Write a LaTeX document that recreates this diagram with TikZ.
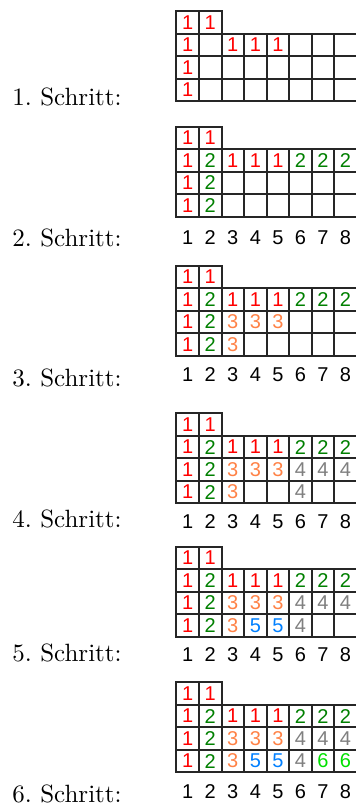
\documentclass[tikz,border=0pt]{standalone}
\usepackage{fontspec}
\newfontfamily\digitfont{Liberation Sans}
\definecolor{cone}{RGB}{255,0,0}
\definecolor{ctwo}{RGB}{0,128,0}
\definecolor{cthree}{RGB}{255,130,70}
\definecolor{cfour}{RGB}{128,128,128}
\definecolor{cfive}{RGB}{0,128,255}
\definecolor{csix}{RGB}{0,225,0}
\newcommand{\cellgrid}[1]{%
  \foreach \c in {0,1} {\draw[gridline] ({176.4+\c*22.55},#1) rectangle ++(22.55,22.5);}
  \foreach \r in {1,2,3} {\foreach \c in {0,...,7} {\draw[gridline] ({176.4+\c*22.55},{#1+\r*22.5}) rectangle ++(22.55,22.5);}}%
}
\newcommand{\fillcells}[3]{%
  \foreach \r/\c/\v/\k in {#3} {\node[celltxt,text=\k] (s#1-\r-\c) at ({176.4+(\c-0.5)*22.55},{#2+(\r+0.5)*22.5}) {\v};}%
}
\newcommand{\numrow}[2]{%
  \foreach \c in {1,...,8} {\node[celltxt] (n#1-\c) at ({176.4+(\c-0.5)*22.55},#2) {\c};}%
}
\frenchspacing
\begin{document}
\begin{tikzpicture}[x=0.4pt,y=-0.4pt,
  gridline/.style={line width=0.8pt, black!85},
  celltxt/.style={font=\digitfont\fontsize{8}{9.6}\selectfont, inner sep=0pt, anchor=center},
  steplabel/.style={anchor=base west, inner sep=0pt, font=\fontsize{10}{12}\selectfont}]
\useasboundingbox (0,0) rectangle (355,809);
\fill[white] (0,0) rectangle (355,809);
% grids
\cellgrid{11}
\cellgrid{126.5}
\cellgrid{265.7}
\cellgrid{413.3}
\cellgrid{546.7}
\cellgrid{682.3}
% step 1
\fillcells{1}{11}{0/1/1/cone,0/2/1/cone,1/1/1/cone,1/3/1/cone,1/4/1/cone,1/5/1/cone,2/1/1/cone,3/1/1/cone}
% step 2
\fillcells{2}{126.5}{0/1/1/cone,0/2/1/cone,1/1/1/cone,1/2/2/ctwo,1/3/1/cone,1/4/1/cone,1/5/1/cone,1/6/2/ctwo,1/7/2/ctwo,1/8/2/ctwo,2/1/1/cone,2/2/2/ctwo,3/1/1/cone,3/2/2/ctwo}
% step 3
\fillcells{3}{265.7}{0/1/1/cone,0/2/1/cone,1/1/1/cone,1/2/2/ctwo,1/3/1/cone,1/4/1/cone,1/5/1/cone,1/6/2/ctwo,1/7/2/ctwo,1/8/2/ctwo,2/1/1/cone,2/2/2/ctwo,2/3/3/cthree,2/4/3/cthree,2/5/3/cthree,3/1/1/cone,3/2/2/ctwo,3/3/3/cthree}
% step 4
\fillcells{4}{413.3}{0/1/1/cone,0/2/1/cone,1/1/1/cone,1/2/2/ctwo,1/3/1/cone,1/4/1/cone,1/5/1/cone,1/6/2/ctwo,1/7/2/ctwo,1/8/2/ctwo,2/1/1/cone,2/2/2/ctwo,2/3/3/cthree,2/4/3/cthree,2/5/3/cthree,2/6/4/cfour,2/7/4/cfour,2/8/4/cfour,3/1/1/cone,3/2/2/ctwo,3/3/3/cthree,3/6/4/cfour}
% step 5
\fillcells{5}{546.7}{0/1/1/cone,0/2/1/cone,1/1/1/cone,1/2/2/ctwo,1/3/1/cone,1/4/1/cone,1/5/1/cone,1/6/2/ctwo,1/7/2/ctwo,1/8/2/ctwo,2/1/1/cone,2/2/2/ctwo,2/3/3/cthree,2/4/3/cthree,2/5/3/cthree,2/6/4/cfour,2/7/4/cfour,2/8/4/cfour,3/1/1/cone,3/2/2/ctwo,3/3/3/cthree,3/4/5/cfive,3/5/5/cfive,3/6/4/cfour}
% step 6
\fillcells{6}{682.3}{0/1/1/cone,0/2/1/cone,1/1/1/cone,1/2/2/ctwo,1/3/1/cone,1/4/1/cone,1/5/1/cone,1/6/2/ctwo,1/7/2/ctwo,1/8/2/ctwo,2/1/1/cone,2/2/2/ctwo,2/3/3/cthree,2/4/3/cthree,2/5/3/cthree,2/6/4/cfour,2/7/4/cfour,2/8/4/cfour,3/1/1/cone,3/2/2/ctwo,3/3/3/cthree,3/4/5/cfive,3/5/5/cfive,3/6/4/cfour,3/7/6/csix,3/8/6/csix}
% column numbers
\numrow{2}{237.5}
\numrow{3}{375}
\numrow{4}{521.5}
\numrow{5}{655}
\numrow{6}{791.5}
% labels
\node[steplabel] (l1) at (12,105.6) {1. Schritt:};
\node[steplabel] (l2) at (12,246) {2. Schritt:};
\node[steplabel] (l3) at (12,386) {3. Schritt:};
\node[steplabel] (l4) at (12,527) {4. Schritt:};
\node[steplabel] (l5) at (12,661) {5. Schritt:};
\node[steplabel] (l6) at (12,802) {6. Schritt:};
\end{tikzpicture}
\end{document}
